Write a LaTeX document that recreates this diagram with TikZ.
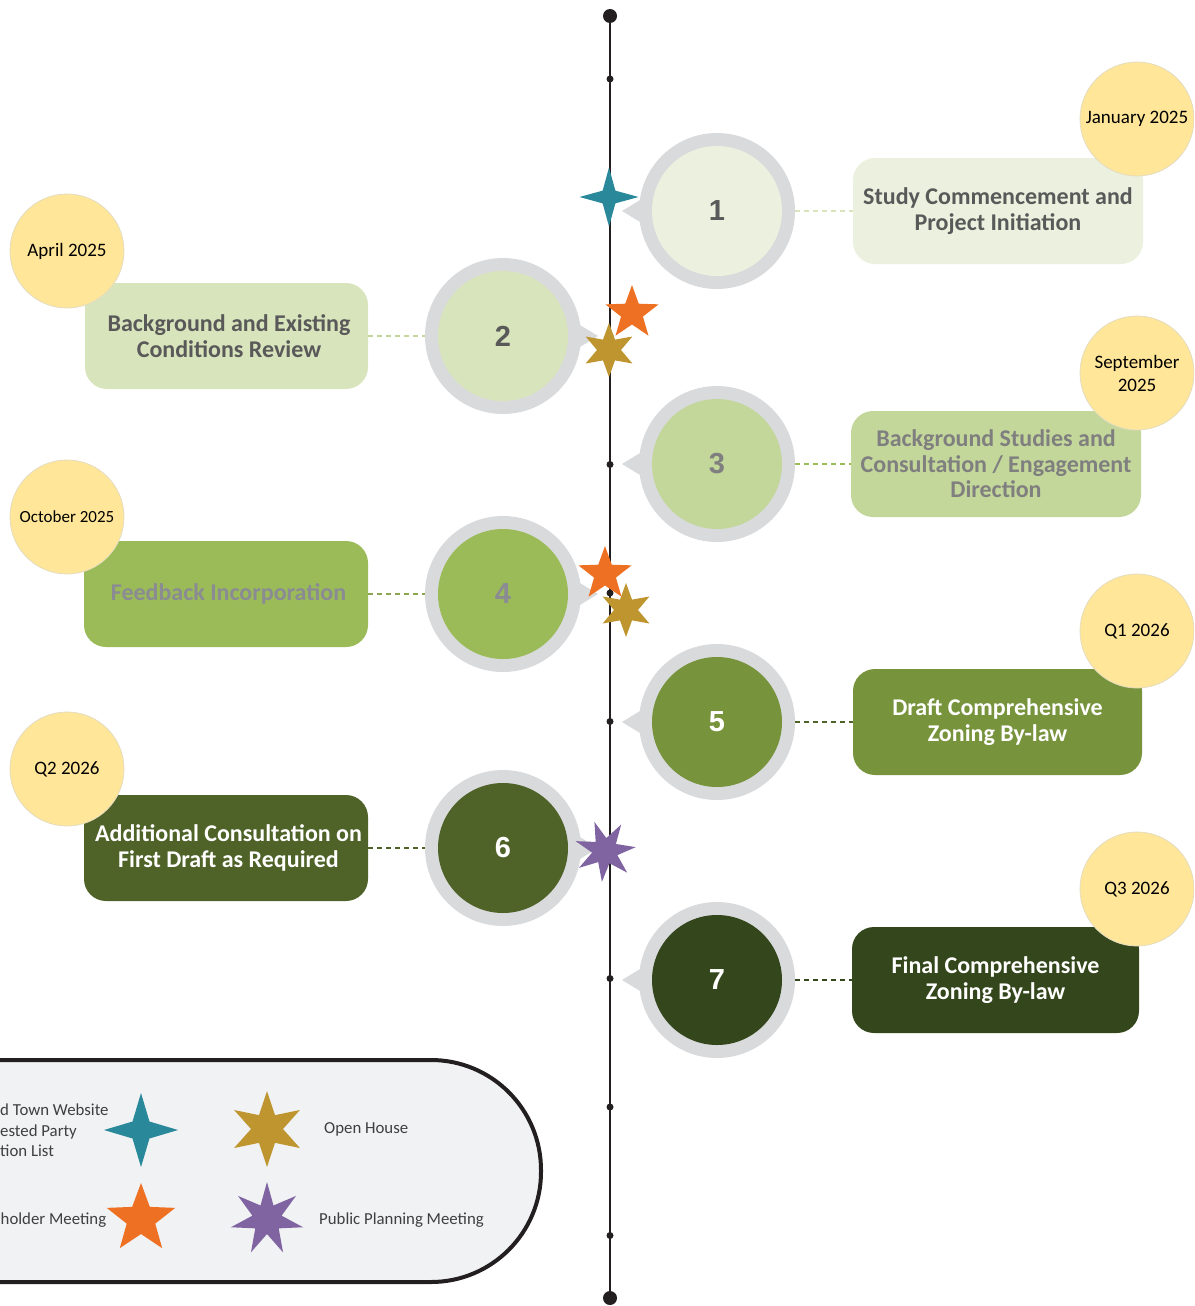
\documentclass[tikz,border=0pt]{standalone}
\usepackage{fontspec}
\setmainfont{Carlito}
\newfontfamily\numfont{Liberation Sans}
\usetikzlibrary{calc}
\definecolor{ringgrey}{HTML}{D9DADC}
\definecolor{dateyellow}{HTML}{FFE699}
\definecolor{dateedge}{HTML}{E4DCC0}
\definecolor{gA}{HTML}{EBF1DE}
\definecolor{gB}{HTML}{D8E4BC}
\definecolor{gC}{HTML}{C4D79B}
\definecolor{gD}{HTML}{9BBB59}
\definecolor{gE}{HTML}{77933C}
\definecolor{gF}{HTML}{4F6228}
\definecolor{gG}{HTML}{34461B}
\definecolor{txA}{HTML}{595959}
\definecolor{txC}{HTML}{7F7F7F}
\definecolor{txD}{HTML}{8A8B93}
\definecolor{lineblack}{HTML}{231F20}
\definecolor{stTeal}{HTML}{2A889B}
\definecolor{stOrange}{HTML}{EE7023}
\definecolor{stGold}{HTML}{BE952E}
\definecolor{stPurple}{HTML}{8064A2}
\definecolor{legfill}{HTML}{F1F2F4}
\definecolor{legtxt}{HTML}{3F3F3F}
\newcommand\mystar[7]{%
  \pgfmathtruncatemacro\mylast{#3-1}%
  \fill[#7] ({#1+#4*cos(90+#6)},{#2-#4*sin(90+#6)})
    \foreach \k in {0,...,\mylast} {
      -- ({#1+#4*cos(90+#6+\k*360/#3)},{#2-#4*sin(90+#6+\k*360/#3)})
      -- ({#1+#5*cos(90+#6+(\k+0.5)*360/#3)},{#2-#5*sin(90+#6+(\k+0.5)*360/#3)})
    } -- cycle;}
\tikzset{
  ring/.style={circle, fill=ringgrey, minimum size=156pt, inner sep=0pt},
  disc/.style={circle, minimum size=130pt, inner sep=0pt, font=\numfont\fontsize{29}{29}\selectfont\bfseries},
  box/.style={rectangle, rounded corners=22pt, minimum width=288pt, minimum height=106pt, inner sep=0pt, align=center, font=\fontsize{24}{25.5}\selectfont\bfseries},
  datec/.style={circle, fill=dateyellow, draw=dateedge, line width=0.8pt, minimum size=114pt, inner sep=0pt, align=center, font=\fontsize{19}{23}\selectfont, text=black},
  link/.style={dash pattern=on 5pt off 4pt, line width=1.2pt},
  legtext/.style={inner sep=0pt, font=\fontsize{16.8}{20.5}\selectfont, text=legtxt, align=left},
}
\begin{document}
\begin{tikzpicture}[x=1pt,y=-1pt]
\useasboundingbox (0,0) rectangle (1194,1306);
\clip (0,0) rectangle (1194,1306);
% legend
\node[draw=lineblack, line width=4pt, fill=legfill, rounded corners=110pt, minimum width=840pt, minimum height=222pt] (legend) at (121,1171) {};
% timeline
\coordinate (top) at (610,16);
\coordinate (bot) at (610,1298);
\draw[lineblack, line width=2.5pt] (top) -- (bot);
\fill[lineblack] (top) circle (7pt);
\fill[lineblack] (bot) circle (7pt);
\foreach \i in {0,...,9} {\fill[lineblack] (610,{79+128.5*\i}) circle (3.5pt);}
% rings
\foreach \n/\x/\y/\d in {1/717/211/-1, 2/503/336/1, 3/717/464/-1, 4/503/594/1, 5/717/722/-1, 6/503/848/1, 7/717/980/-1} {
  \node[ring] (r\n) at (\x,\y) {};
  \fill[ringgrey] ($(r\n.center)+(\d*95,0)$) -- ($(r\n.center)+(\d*72,-14)$) -- ($(r\n.center)+(\d*72,14)$) -- cycle;
}
\node[disc, fill=gA, text=txA] (n1) at (r1) {1};
\node[disc, fill=gB, text=txA] (n2) at (r2) {2};
\node[disc, fill=gC, text=txC] (n3) at (r3) {3};
\node[disc, fill=gD, text=txD] (n4) at (r4) {4};
\node[disc, fill=gE, text=white] (n5) at (r5) {5};
\node[disc, fill=gF, text=white] (n6) at (r6) {6};
\node[disc, fill=gG, text=white] (n7) at (r7) {7};
% boxes
\node[box, fill=gA, text=txA, minimum width=290pt] (b1) at (998,211) {Study Commencement and\\Project Initiation};
\node[box, fill=gB, text=txA, minimum width=283pt] (b2) at (226.5,336) {\hspace*{5pt}Background and Existing\\\hspace*{5pt}Conditions Review};
\node[box, fill=gC, text=txC, minimum width=290pt] (b3) at (996,464) {Background Studies and\\Consultation / Engagement\\Direction};
\node[box, fill=gD, text=txD, minimum width=284pt] (b4) at (226,594) {\hspace*{5pt}Feedback Incorporation};
\node[box, fill=gE, text=white, minimum width=289pt] (b5) at (997.5,722) {Draft Comprehensive\\Zoning By-law};
\node[box, fill=gF, text=white, minimum width=284pt] (b6) at (226,848) {\hspace*{5pt}Additional Consultation on\\\hspace*{5pt}First Draft as Required};
\node[box, fill=gG, text=white, minimum width=287pt] (b7) at (995.5,980) {Final Comprehensive\\Zoning By-law};
% connectors
\draw[link, draw=gB] (r1.east) -- (b1.west);
\draw[link, draw=gC] (b2.east) -- (r2.west);
\draw[link, draw=gD] (r3.east) -- (b3.west);
\draw[link, draw=gD!90!black] (b4.east) -- (r4.west);
\draw[link, draw=gF] (r5.east) -- (b5.west);
\draw[link, draw=gF] (b6.east) -- (r6.west);
\draw[link, draw=gG] (r7.east) -- (b7.west);
% dates
\node[datec] (d1) at (1137,119) {January 2025};
\node[datec] (d2) at (67,251) {April 2025};
\node[datec] (d3) at (1137,373) {September\\2025};
\node[datec, font=\fontsize{17}{23}\selectfont] (d4) at (67,517) {October 2025};
\node[datec] (d5) at (1137,631) {Q1 2026};
\node[datec] (d6) at (67,769) {Q2 2026};
\node[datec] (d7) at (1137,889) {Q3 2026};
% timeline stars
\mystar{609}{197}{4}{29.5}{9}{0}{stTeal}
\mystar{632}{313}{5}{28}{11.5}{0}{stOrange}
\mystar{609}{350}{6}{27}{12}{0}{stGold}
\mystar{605}{574}{5}{28}{11.5}{0}{stOrange}
\mystar{626}{610}{6}{27}{12}{0}{stGold}
\mystar{605}{851}{7}{31}{13}{20}{stPurple}
% legend content
\mystar{141}{1130}{4}{37}{12}{0}{stTeal}
\mystar{267}{1129}{6}{38}{16}{0}{stGold}
\mystar{141}{1219}{5}{36}{15}{0}{stOrange}
\mystar{267}{1219}{7}{37}{15}{0}{stPurple}
\node[legtext, anchor=north west] (lg1) at (0,1104) {d Town Website\\ested Party\\tion List};
\node[legtext, anchor=west] (lg2) at (0.5,1220) {holder Meeting};
\node[legtext, anchor=west] (lg3) at (324,1129) {Open House};
\node[legtext, anchor=west] (lg4) at (319,1220) {Public Planning Meeting};
\end{tikzpicture}
\end{document}
